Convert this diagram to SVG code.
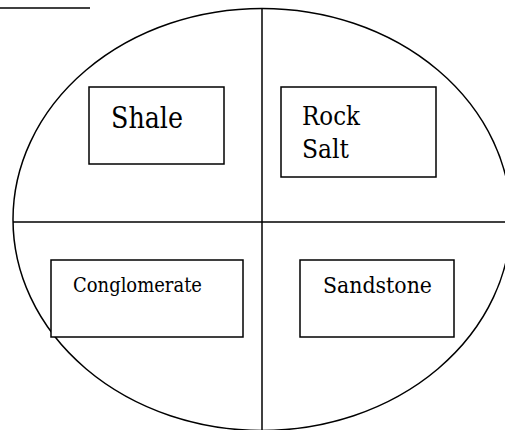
<svg xmlns="http://www.w3.org/2000/svg" width="505" height="430" viewBox="0 0 505 430">
<style>
.ln{fill:none;stroke:#000;stroke-width:1.5}
.bx{fill:#fff;stroke:#000;stroke-width:1.5}
text{font-family:'DejaVu Serif',serif;fill:#000}
</style>
<rect width="505" height="430" fill="#fff"/>
<g id="connectors">
<line class="ln" x1="0" y1="8" x2="90" y2="8"/>
<ellipse class="ln" cx="262" cy="219.5" rx="249" ry="211"/>
<line class="ln" x1="262" y1="9" x2="262" y2="430"/>
<line class="ln" x1="13" y1="222" x2="512" y2="222"/>
</g>
<g id="shale">
<rect class="bx" x="89" y="87" width="135" height="77"/>
<text x="111" y="128" font-size="29" textLength="72" lengthAdjust="spacingAndGlyphs">Shale</text>
</g>
<g id="rocksalt">
<rect class="bx" x="281" y="87" width="155" height="90"/>
<text x="302" y="125" font-size="26" textLength="58" lengthAdjust="spacingAndGlyphs">Rock</text>
<text x="302" y="158" font-size="26" textLength="47" lengthAdjust="spacingAndGlyphs">Salt</text>
</g>
<g id="conglomerate">
<rect class="bx" x="51" y="260" width="192" height="77"/>
<text x="73" y="292" font-size="21" textLength="129" lengthAdjust="spacingAndGlyphs">Conglomerate</text>
</g>
<g id="sandstone">
<rect class="bx" x="300" y="260" width="154" height="77"/>
<text x="323" y="293" font-size="23" textLength="109" lengthAdjust="spacingAndGlyphs">Sandstone</text>
</g>
</svg>
